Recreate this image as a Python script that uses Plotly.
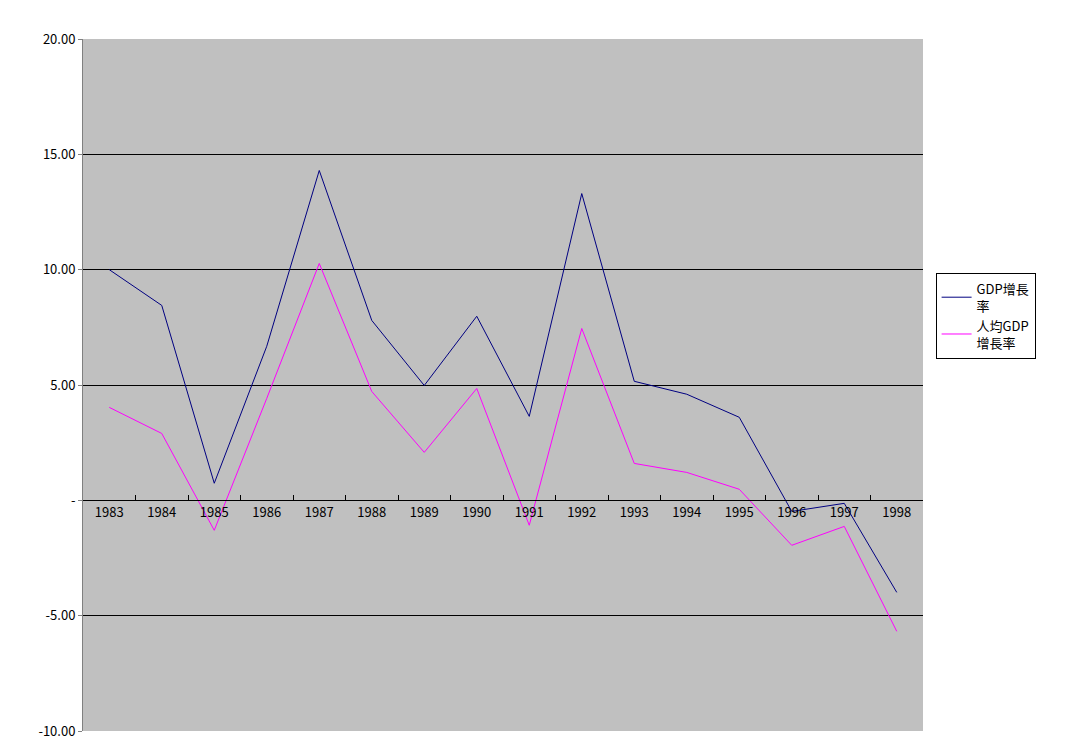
import plotly.graph_objects as go

years = [str(y) for y in range(1983, 1999)]
gdp = [10.0, 8.45, 0.74, 6.68, 14.3, 7.8, 4.98, 7.98, 3.64, 13.3, 5.16, 4.6, 3.6, -0.48, -0.13, -3.99]
gdp_pc = [4.03, 2.9, -1.3, 4.42, 10.27, 4.72, 2.08, 4.85, -1.08, 7.45, 1.6, 1.21, 0.48, -1.95, -1.13, -5.68]
ytickvals = [-10, -5, 0, 5, 10, 15, 20]
yticktext = ["-10.00", "-5.00", "-", "5.00", "10.00", "15.00", "20.00"]

fig = go.Figure()
fig.add_trace(go.Scatter(x=years, y=gdp, mode="lines", name="GDP增長<br>率",
                         line=dict(color="#000080", width=1)))
fig.add_trace(go.Scatter(x=years, y=gdp_pc, mode="lines", name="人均GDP<br>增長率",
                         line=dict(color="#FF00FF", width=1)))
font = dict(family="Noto Sans CJK TC, DejaVu Sans", size=13, color="black")
fig.update_layout(
    width=1082, height=754, paper_bgcolor="white", plot_bgcolor="#C0C0C0",
    margin=dict(l=75, r=167, t=31, b=31), font=font,
    xaxis=dict(type="category", anchor="free", position=1/3, showgrid=False,
               ticks="inside", ticklen=5, tickcolor="black", tickson="boundaries",
               showline=True, linecolor="black", linewidth=1, zeroline=False,
               range=[-0.5, 15.5]),
    yaxis=dict(range=[-10, 20], tickvals=ytickvals, ticktext=yticktext,
               showgrid=True, gridcolor="black", gridwidth=1, zeroline=False,
               showline=True, linecolor="#808080", ticks="outside", ticklen=4,
               tickcolor="#808080"),
    legend=dict(x=1.015, y=0.6, xanchor="left", yanchor="middle",
                bgcolor="white", bordercolor="black", borderwidth=1,
                font=dict(size=13)),
)
fig.write_html("out.html")
